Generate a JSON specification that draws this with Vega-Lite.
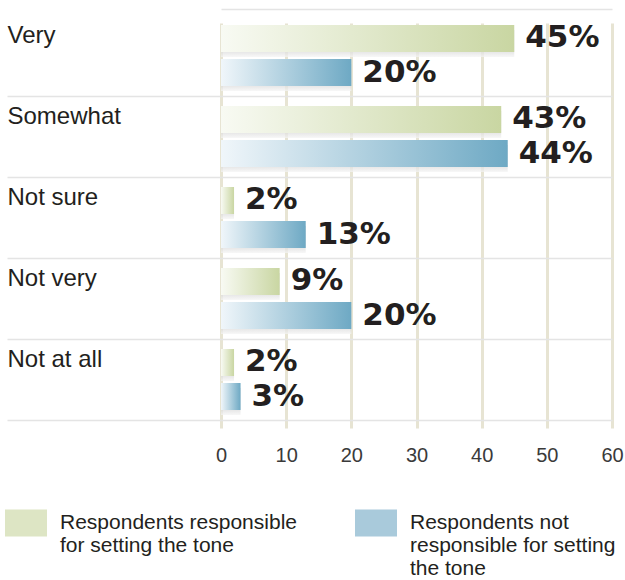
{
  "$schema": "https://vega.github.io/schema/vega-lite/v6.json",
  "width": 391,
  "height": 425,
  "autosize": {"type": "none"},
  "padding": {"left": 221, "top": 9, "right": 13, "bottom": 146},
  "background": "white",
  "config": {"view": {"stroke": null}, "font": "Liberation Sans"},
  "data": {
    "values": [
      {"category": "Very", "series": "Respondents responsible for setting the tone", "value": 45},
      {"category": "Very", "series": "Respondents not responsible for setting the tone", "value": 20},
      {"category": "Somewhat", "series": "Respondents responsible for setting the tone", "value": 43},
      {"category": "Somewhat", "series": "Respondents not responsible for setting the tone", "value": 44},
      {"category": "Not sure", "series": "Respondents responsible for setting the tone", "value": 2},
      {"category": "Not sure", "series": "Respondents not responsible for setting the tone", "value": 13},
      {"category": "Not very", "series": "Respondents responsible for setting the tone", "value": 9},
      {"category": "Not very", "series": "Respondents not responsible for setting the tone", "value": 20},
      {"category": "Not at all", "series": "Respondents responsible for setting the tone", "value": 2},
      {"category": "Not at all", "series": "Respondents not responsible for setting the tone", "value": 3}
    ]
  },
  "encoding": {
    "y": {
      "field": "category",
      "type": "nominal",
      "sort": ["Very", "Somewhat", "Not sure", "Not very", "Not at all"],
      "scale": {"range": [6, 411], "paddingInner": 0, "paddingOuter": 0},
      "axis": {
        "title": null,
        "bandPosition": 1,
        "ticks": true,
        "tickSize": 214,
        "tickColor": "#e4e4e4",
        "tickWidth": 1.5,
        "grid": true,
        "gridColor": "#e4e4e4",
        "gridWidth": 1.5,
        "domain": false,
        "labelAlign": "left",
        "labelBaseline": "middle",
        "labelPadding": 0,
        "labelOffset": -20,
        "labelFontSize": 24,
        "labelColor": "#231f20",
        "labelFont": "Liberation Sans"
      }
    }
  },
  "layer": [
    {
      "mark": {
        "type": "bar",
        "color": {
          "gradient": "linear",
          "x1": 0, "x2": 0, "y1": 0, "y2": 1,
          "stops": [
            {"offset": 0, "color": "#d4d4d4"},
            {"offset": 0.75, "color": "#d8d8d8"},
            {"offset": 1, "color": "#f5f5f5"}
          ]
        },
        "opacity": 0.75
      },
      "encoding": {
        "x": {"field": "value", "type": "quantitative", "axis": null},
        "yOffset": {
          "field": "series",
          "type": "nominal",
          "scale": {
            "domain": ["Respondents responsible for setting the tone", "Respondents not responsible for setting the tone"],
            "paddingInner": 0.206,
            "paddingOuter": 0.294,
            "align": 0.75
          }
        }
      }
    },
    {
      "transform": [{"filter": "datum.series === 'Respondents responsible for setting the tone'"}],
      "mark": {
        "type": "bar",
        "color": {
          "gradient": "linear",
          "x1": 0, "x2": 1, "y1": 0, "y2": 0,
          "stops": [
            {"offset": 0, "color": "#f8faf3"},
            {"offset": 1, "color": "#c9d6a2"}
          ]
        }
      },
      "encoding": {
        "yOffset": {
          "field": "series",
          "type": "nominal",
          "scale": {
            "domain": ["Respondents responsible for setting the tone", "Respondents not responsible for setting the tone"],
            "paddingInner": 0.206,
            "paddingOuter": 0.294
          }
        },
        "x": {
          "field": "value",
          "type": "quantitative",
          "scale": {"domain": [0, 60]},
          "axis": {
            "title": null,
            "values": [0, 10, 20, 30, 40, 50, 60],
            "grid": true,
            "gridColor": "#e7e4d3",
            "gridWidth": 3,
            "ticks": false,
            "domain": false,
            "labelFontSize": 20,
            "labelColor": "#3a3a3a",
            "labelPadding": 11,
            "labelFlush": false,
            "labelOverlap": false,
            "labelFont": "Liberation Sans"
          }
        }
      }
    },
    {
      "transform": [{"filter": "datum.series === 'Respondents not responsible for setting the tone'"}],
      "mark": {
        "type": "bar",
        "color": {
          "gradient": "linear",
          "x1": 0, "x2": 1, "y1": 0, "y2": 0,
          "stops": [
            {"offset": 0, "color": "#f0f6fa"},
            {"offset": 1, "color": "#6ea9c4"}
          ]
        }
      },
      "encoding": {
        "yOffset": {
          "field": "series",
          "type": "nominal",
          "scale": {
            "domain": ["Respondents responsible for setting the tone", "Respondents not responsible for setting the tone"],
            "paddingInner": 0.206,
            "paddingOuter": 0.294
          }
        },
        "x": {
          "field": "value",
          "type": "quantitative",
          "axis": {
            "orient": "top",
            "title": null,
            "labels": false,
            "ticks": false,
            "grid": false,
            "domain": true,
            "domainColor": "#e4e4e4",
            "domainWidth": 1.5
          }
        }
      }
    },
    {
      "transform": [{"calculate": "datum.value + '%'", "as": "label"}],
      "mark": {
        "type": "text",
        "align": "left",
        "baseline": "middle",
        "dx": 11,
        "font": "DejaVu Sans",
        "fontWeight": "bold",
        "fontSize": 31,
        "color": "#231f20"
      },
      "encoding": {
        "yOffset": {
          "field": "series",
          "type": "nominal",
          "scale": {
            "type": "point",
            "domain": ["Respondents responsible for setting the tone", "Respondents not responsible for setting the tone"],
            "padding": 0.691
          }
        },
        "x": {"field": "value", "type": "quantitative", "axis": null},
        "text": {"field": "label"}
      }
    },
    {
      "transform": [{"filter": "false"}],
      "mark": {"type": "bar"},
      "encoding": {
        "x": {"field": "value", "type": "quantitative", "axis": null},
        "fill": {
          "field": "series",
          "type": "nominal",
          "scale": {
            "domain": ["Respondents responsible for setting the tone", "Respondents not responsible for setting the tone"],
            "range": ["#dde5c4", "#a9cadb"]
          },
          "legend": {
            "title": null,
            "orient": "none",
            "legendX": -216,
            "legendY": 493,
            "direction": "horizontal",
            "columns": 2,
            "columnPadding": 58,
            "padding": 0,
            "symbolType": "M-1,-0.643H1V0.643H-1Z",
            "symbolSize": 1764,
            "symbolStrokeWidth": 0,
            "symbolOpacity": 1,
            "labelFontSize": 21,
            "labelFont": "Liberation Sans",
            "labelColor": "#231f20",
            "labelLimit": 400,
            "labelOffset": 13,
            "labelExpr": "datum.label === 'Respondents responsible for setting the tone' ? ['Respondents responsible', 'for setting the tone', ' '] : ['Respondents not', 'responsible for setting', 'the tone']"
          }
        }
      }
    }
  ],
  "resolve": {"axis": {"x": "independent"}, "scale": {"yOffset": "independent"}}
}
